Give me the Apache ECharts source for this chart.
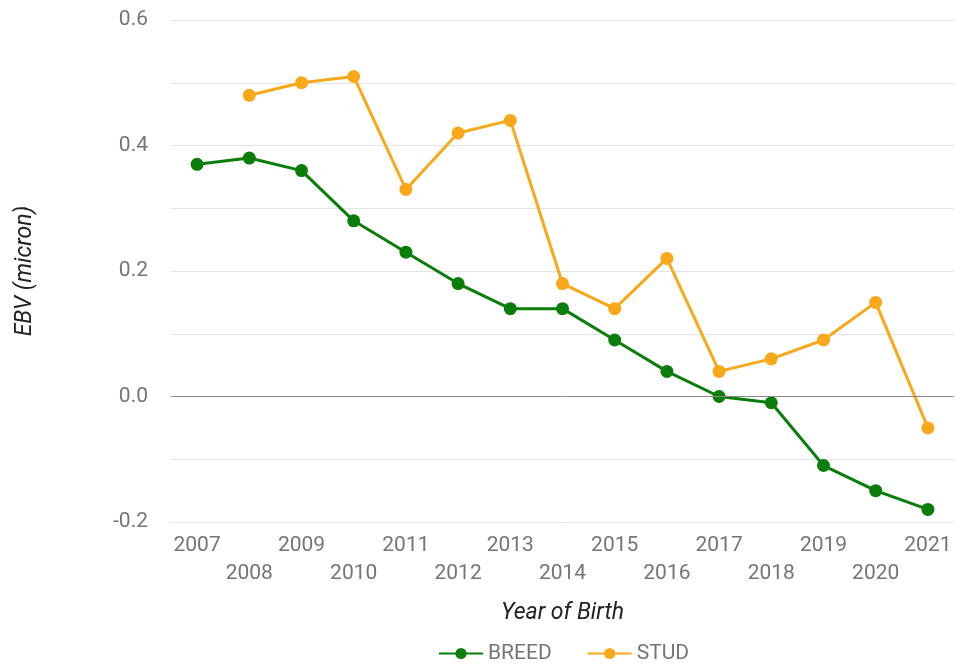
<!DOCTYPE html>
<html>
<head>
<meta charset="utf-8">
<script src="https://cdn.jsdelivr.net/npm/echarts@6/dist/echarts.min.js"></script>
<style>
  html, body { margin: 0; padding: 0; background: #fff; }
  #chart { width: 961px; height: 665px; }
</style>
</head>
<body>
<div id="chart"></div>
<script>
// data
const years = ['2007', '2008', '2009', '2010', '2011', '2012', '2013', '2014',
  '2015', '2016', '2017', '2018', '2019', '2020', '2021']
const breed = [0.37, 0.38, 0.36, 0.28, 0.23, 0.18, 0.14, 0.14, 0.09, 0.04, 0.0, -0.01, -0.11, -0.15, -0.18]
const stud = [null, 0.48, 0.50, 0.51, 0.33, 0.42, 0.44, 0.18, 0.14, 0.22, 0.04, 0.06, 0.09, 0.15, -0.05]

const font = 'Roboto'
const labelGrey = '#757575'

const chart = echarts.init(document.getElementById('chart'))
chart.setOption({
  animation: false,
  grid: { left: 171, right: 7, top: 20, bottom: 143 },
  legend: {
    top: 638,
    left: 433,
    itemWidth: 44,
    itemHeight: 14,
    itemGap: 35,
    textStyle: { fontFamily: font, fontSize: 21, color: labelGrey },
    data: ['BREED', 'STUD']
  },
  xAxis: {
    type: 'category',
    data: years,
    boundaryGap: true,
    name: 'Year of Birth',
    nameLocation: 'middle',
    nameGap: 80,
    nameTextStyle: { fontFamily: font, fontSize: 23, fontStyle: 'italic', color: '#222' },
    axisLine: { show: false },
    axisTick: { show: false },
    axisLabel: {
      interval: 0,
      margin: 10,
      fontFamily: font,
      fontSize: 21,
      color: labelGrey,
      lineHeight: 28,
      formatter: (v, i) => (i % 2 ? '\n' + v : v + '\n')
    }
  },
  yAxis: {
    type: 'value',
    min: -0.2,
    max: 0.6,
    interval: 0.1,
    name: 'EBV (micron)',
    nameLocation: 'middle',
    nameGap: 134,
    nameTextStyle: { fontFamily: font, fontSize: 23, fontStyle: 'italic', color: '#222' },
    axisLine: { show: false },
    axisTick: { show: false },
    splitLine: { lineStyle: { color: '#e4e4e4', width: 1 } },
    axisLabel: {
      margin: 23,
      fontFamily: font,
      fontSize: 21,
      color: labelGrey,
      formatter: (v) => (Math.round(v * 10) % 2 === 0 ? v.toFixed(1) : '')
    }
  },
  series: [
    {
      name: 'BREED',
      type: 'line',
      data: breed,
      color: '#0b7d0b',
      symbol: 'circle',
      symbolSize: 13,
      lineStyle: { width: 3 },
      markLine: {
        silent: true,
        symbol: 'none',
        label: { show: false },
        lineStyle: { color: '#8a8a8a', width: 1, type: 'solid' },
        data: [{ yAxis: 0 }]
      },
      z: 3
    },
    {
      name: 'STUD',
      type: 'line',
      data: stud,
      color: '#f9a81a',
      symbol: 'circle',
      symbolSize: 13,
      lineStyle: { width: 3 },
      z: 2
    }
  ]
})
</script>
</body>
</html>
